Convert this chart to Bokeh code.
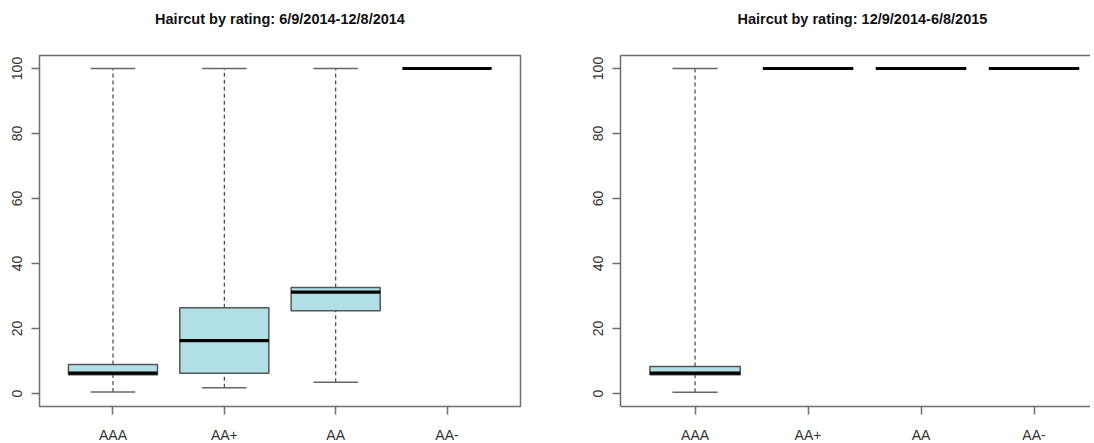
from bokeh.plotting import figure
from bokeh.models import Range1d, FixedTicker, LinearAxis, Title, ColumnDataSource
from bokeh.layouts import row
from bokeh.embed import file_html
from bokeh.resources import INLINE

# ---- data ----
categories = ["AAA", "AA+", "AA", "AA-"]
y_ticks = [0, 20, 40, 60, 80, 100]

left_title = "Haircut by rating: 6/9/2014-12/8/2014"
left_lower = [0.5, 1.8, 3.5, 100]
left_q1 = [5.8, 6.2, 25.5, 100]
left_median = [6.3, 16.3, 31.2, 100]
left_q3 = [8.9, 26.4, 32.6, 100]
left_upper = [100, 100, 100, 100]

right_title = "Haircut by rating: 12/9/2014-6/8/2015"
right_lower = [0.4, 100, 100, 100]
right_q1 = [5.8, 100, 100, 100]
right_median = [6.3, 100, 100, 100]
right_q3 = [8.3, 100, 100, 100]
right_upper = [100, 100, 100, 100]

FONT = "Liberation Sans"
FRAME_COL = "#6e6e6e"
BOX_FILL = "#B0E0E6"


def make_panel(title, lower, q1, med, q3, upper, x_end, b_left, f_width, b_right,
               full_frame, title_align, title_offset):
    xs = list(range(1, len(categories) + 1))
    src = ColumnDataSource(dict(
        x=xs,
        xl=[x - 0.4 for x in xs], xr=[x + 0.4 for x in xs],
        cl=[x - 0.2 for x in xs], cr=[x + 0.2 for x in xs],
        lower=lower, q1=q1, med=med, q3=q3, upper=upper,
    ))
    p = figure(
        output_backend="svg", toolbar_location=None, title=None,
        x_range=Range1d(0.34, x_end), y_range=Range1d(-4, 104),
        frame_width=f_width, frame_height=351,
        min_border_left=b_left, min_border_right=b_right,
        min_border_top=55, min_border_bottom=29,
        background_fill_color="white", border_fill_color="white",
    )
    p.xgrid.visible = False
    p.ygrid.visible = False

    # whiskers
    p.segment(x0="x", y0="q3", x1="x", y1="upper", source=src,
              line_color="#444444", line_width=1.2, line_dash="4 3")
    p.segment(x0="x", y0="lower", x1="x", y1="q1", source=src,
              line_color="#444444", line_width=1.2, line_dash="4 3")
    # staples
    p.segment(x0="cl", y0="upper", x1="cr", y1="upper", source=src,
              line_color="#666666", line_width=1.5)
    p.segment(x0="cl", y0="lower", x1="cr", y1="lower", source=src,
              line_color="#666666", line_width=1.5)
    # boxes
    p.vbar(x="x", width=0.8, bottom="q1", top="q3", source=src,
           fill_color=BOX_FILL, line_color="#555555", line_width=1.5)
    # medians
    p.segment(x0="xl", y0="med", x1="xr", y1="med", source=src,
              line_color="black", line_width=3.2, line_cap="butt")

    # axes
    xa = p.xaxis[0]
    xa.ticker = FixedTicker(ticks=xs)
    xa.major_label_overrides = {x: c for x, c in zip(xs, categories)}
    ya = p.yaxis[0]
    ya.ticker = FixedTicker(ticks=y_ticks)
    ya.major_label_orientation = "vertical"
    for ax in (xa, ya):
        ax.minor_tick_line_color = None
        ax.major_tick_in = 0
        ax.major_tick_out = 8
        ax.major_tick_line_color = FRAME_COL
        ax.major_tick_line_width = 1.5
        ax.major_label_text_font = FONT
        ax.major_label_text_font_size = "14px"
        ax.major_label_text_color = "#333333"
    xa.major_label_standoff = 12
    ya.major_label_standoff = 10

    if full_frame:
        p.outline_line_color = FRAME_COL
        p.outline_line_width = 1.5
        p.outline_line_alpha = 1
        xa.axis_line_color = None
        ya.axis_line_color = None
        top_line = None
    else:
        p.outline_line_color = None
        xa.axis_line_color = FRAME_COL
        xa.axis_line_width = 1.5
        ya.axis_line_color = FRAME_COL
        ya.axis_line_width = 1.5
        top_line = FRAME_COL

    # top axis: frame top edge (right panel) and invisible spacer between frame and title
    top = LinearAxis(ticker=FixedTicker(ticks=[xs[0]]), major_tick_out=24, major_tick_in=0,
                     major_tick_line_color=None,
                     minor_tick_out=0, minor_tick_in=0, major_label_standoff=0,
                     major_label_overrides={xs[0]: ""},
                     major_label_text_font_size="1px",
                     axis_line_color=top_line, axis_line_width=1.5)
    p.add_layout(top, "above")

    p.add_layout(Title(text=title, align=title_align, offset=title_offset,
                       text_font=FONT, text_font_style="bold",
                       text_font_size="14.5px", text_color="#111111", standoff=10), "above")
    return p


p1 = make_panel(left_title, left_lower, left_q1, left_median, left_q3, left_upper,
                4.66, 39, 481, 40, True, "center", 0)
p2 = make_panel(right_title, right_lower, right_q1, right_median, right_q3, right_upper,
                4.50, 60, 470, 0, False, "left", 117)

layout = row(p1, p2)
open("out.html", "w").write(file_html(layout, INLINE))
